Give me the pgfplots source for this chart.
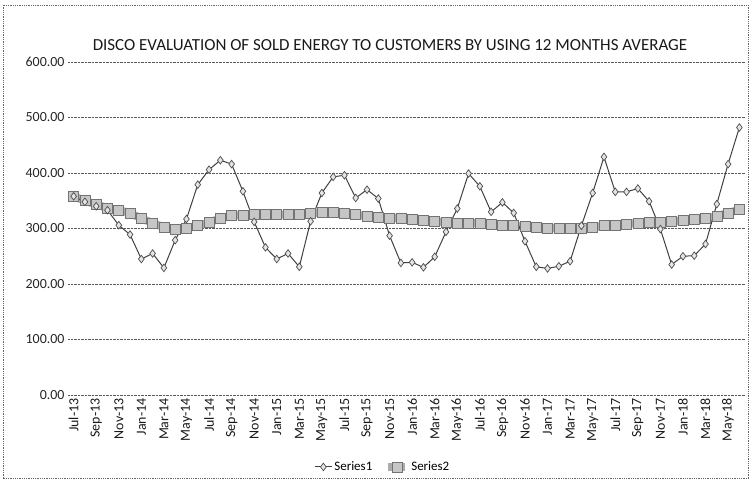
\documentclass[border=0pt]{standalone}
\usepackage{fontspec}
\setmainfont{Carlito}
\usepackage{pgfplots}
\pgfplotsset{compat=1.18}
\usepackage{pgfplotstable}

\pgfplotstableread{
i s1 s2
0 358 358
1 348 350
2 340 343
3 333 337
4 306 333
5 289 328
6 245 318
7 255 310
8 229 302
9 279 298
10 317 300
11 379 305
12 406 311
13 423 318
14 416 323
15 367 324
16 312 325
17 266 325
18 245 325
19 255 325
20 231 326
21 313 327
22 364 329
23 393 330
24 396 328
25 355 325
26 370 322
27 354 320
28 287 319
29 238 318
30 239 317
31 230 315
32 249 313
33 294 311
34 336 310
35 399 310
36 376 309
37 330 308
38 347 306
39 328 305
40 277 304
41 231 303
42 228 301
43 232 300
44 241 300
45 305 301
46 364 302
47 429 305
48 366 306
49 366 308
50 372 310
51 349 311
52 299 312
53 235 313
54 250 314
55 251 316
56 272 318
57 344 322
58 416 328
59 482 334
}\datatable

\begin{document}
\begin{tikzpicture}[x=1bp,y=1bp]
\path[use as bounding box] (0,0) rectangle (750,502);
\draw[black!60, densely dotted, line width=0.8bp] (3,24) rectangle (748,497);
\node[font=\fontsize{17}{20}\selectfont, text=black!90] at (390,457) {DISCO EVALUATION OF SOLD ENERGY TO CUSTOMERS BY USING 12 MONTHS AVERAGE};
\begin{axis}[
  at={(68bp,107bp)}, anchor=south west,
  scale only axis, width=677bp, height=333bp,
  xmin=-0.5, xmax=59.5, ymin=0, ymax=600,
  axis line style={draw=none},
  major tick length=0pt,
  ytick={0,100,...,600},
  ymajorgrids,
  grid style={black!65, densely dotted, line width=0.8bp},
  /pgf/number format/assume math mode=true,
  yticklabel style={/pgf/number format/fixed, /pgf/number format/fixed zerofill, /pgf/number format/precision=2, font=\fontsize{14}{16}\selectfont, text=black!85},
  xtick={0,2,...,58},
  xticklabels={Jul-13,Sep-13,Nov-13,Jan-14,Mar-14,May-14,Jul-14,Sep-14,Nov-14,Jan-15,Mar-15,May-15,Jul-15,Sep-15,Nov-15,Jan-16,Mar-16,May-16,Jul-16,Sep-16,Nov-16,Jan-17,Mar-17,May-17,Jul-17,Sep-17,Nov-17,Jan-18,Mar-18,May-18},
  xticklabel style={rotate=90, anchor=east, font=\fontsize{14}{16}\selectfont, text=black!90},
  legend style={at={(0.465,-0.216)}, anchor=center, draw=none, fill=none, legend columns=2, font=\fontsize{13}{15}\selectfont, /tikz/every even column/.append style={column sep=10bp}},
  reverse legend,
  clip=false,
]
\addplot[color=gray!65, line width=8bp, mark=square*, mark size=5bp, mark options={fill=gray!45, draw=black!55, line width=0.6bp}] table[x=i, y=s2] {\datatable};
\addlegendentry{Series2}
\addplot[color=black!75, line width=1bp, mark=diamond*, mark size=3.8bp, mark options={fill=gray!20, draw=black!70, line width=0.7bp}] table[x=i, y=s1] {\datatable};
\addlegendentry{Series1}
\end{axis}
\end{tikzpicture}
\end{document}
